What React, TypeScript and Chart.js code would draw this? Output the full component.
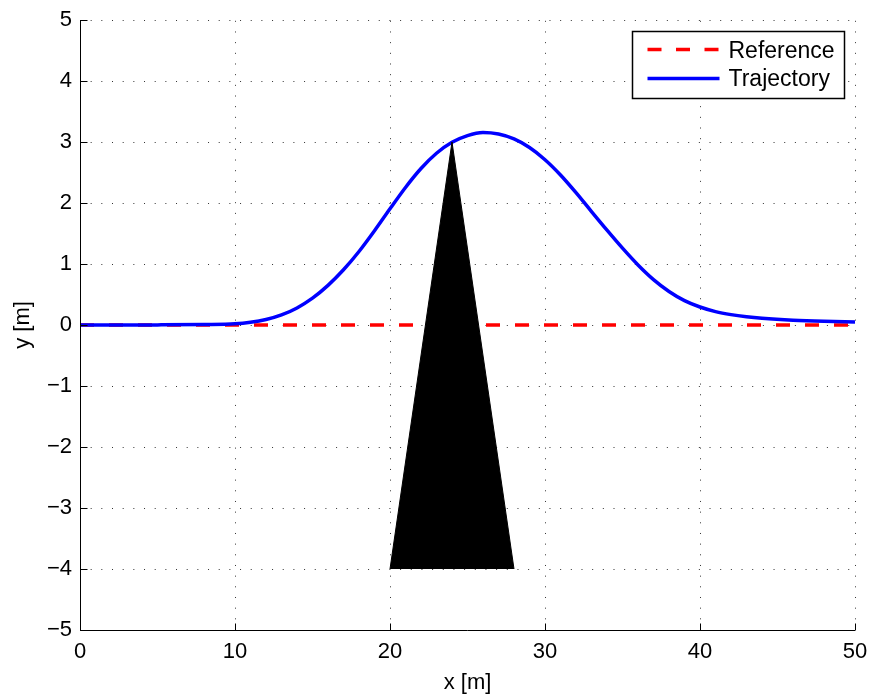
import React, { useEffect, useRef } from "react";
import { Chart, registerables } from "chart.js";

Chart.register(...registerables);

const REF_X = [0, 50];
const REF_Y = [0, 0];

const TRAJ_X = [0, 5, 8, 10, 11, 12, 13, 14, 15, 16, 17, 18, 19, 20, 21, 22, 23, 24, 25, 26, 27, 28, 29, 30, 31, 32, 33, 34, 35, 36, 37, 38, 39, 40, 41, 42, 43, 44, 46, 48, 50];
const TRAJ_Y = [0, 0.002, 0.008, 0.02, 0.045, 0.09, 0.165, 0.28, 0.44, 0.65, 0.905, 1.205, 1.545, 1.905, 2.255, 2.565, 2.815, 2.995, 3.105, 3.155, 3.13, 3.05, 2.91, 2.71, 2.46, 2.17, 1.86, 1.555, 1.26, 0.985, 0.745, 0.55, 0.4, 0.295, 0.22, 0.17, 0.135, 0.11, 0.078, 0.06, 0.05];

const OBST_X = [20, 24, 28];
const OBST_Y = [-4, 3, -4];

const X_TICKS = [0, 10, 20, 30, 40, 50];
const Y_TICKS = [-5, -4, -3, -2, -1, 0, 1, 2, 3, 4, 5];

const LEGEND_LABELS = ["Reference", "Trajectory"];
const X_TITLE = "x [m]";
const Y_TITLE = "y [m]";

const FONT_FAMILY = "'Liberation Sans', Arial, Helvetica, sans-serif";
const FONT_SIZE = 22;

const toPts = (xs: number[], ys: number[]) => xs.map((x, i) => ({ x, y: ys[i] }));
const fmt = (v: number) => (v < 0 ? "\u2212" + Math.abs(v) : String(v));

const gridPlugin = {
  id: "matlabGrid",
  beforeDatasetsDraw(chart: any) {
    const { ctx, chartArea } = chart;
    const xs = chart.scales.x;
    const ys = chart.scales.y;
    ctx.save();
    ctx.setLineDash([1, 9.67]);
    ctx.strokeStyle = "rgba(0,0,0,0.8)";
    ctx.lineWidth = 1;
    ctx.beginPath();
    X_TICKS.forEach((v) => {
      const px = Math.round(xs.getPixelForValue(v)) + 0.5;
      ctx.moveTo(px, chartArea.bottom);
      ctx.lineTo(px, chartArea.top);
    });
    Y_TICKS.forEach((v) => {
      const py = Math.round(ys.getPixelForValue(v)) + 0.5;
      ctx.moveTo(chartArea.left, py);
      ctx.lineTo(chartArea.right, py);
    });
    ctx.stroke();
    ctx.restore();
  },
  afterDatasetsDraw(chart: any) {
    const { ctx, chartArea } = chart;
    const xs = chart.scales.x;
    const ys = chart.scales.y;
    const L = Math.round(chartArea.left) + 0.5;
    const B = Math.round(chartArea.bottom) + 0.5;
    ctx.save();
    ctx.setLineDash([]);
    ctx.strokeStyle = "#000";
    ctx.lineWidth = 1;
    ctx.beginPath();
    ctx.moveTo(L, chartArea.top);
    ctx.lineTo(L, B);
    ctx.lineTo(chartArea.right, B);
    X_TICKS.forEach((v) => {
      const px = Math.round(xs.getPixelForValue(v)) + 0.5;
      ctx.moveTo(px, B);
      ctx.lineTo(px, B - 7);
    });
    Y_TICKS.forEach((v) => {
      const py = Math.round(ys.getPixelForValue(v)) + 0.5;
      ctx.moveTo(L, py);
      ctx.lineTo(L + 7, py);
    });
    ctx.stroke();
    ctx.restore();
  },
  afterDraw(chart: any) {
    const { ctx, chartArea } = chart;
    const w = 212;
    const h = 67;
    const x0 = Math.round(chartArea.right - 11 - w) + 0.5;
    const y0 = Math.round(chartArea.top + 11) + 0.5;
    ctx.save();
    ctx.fillStyle = "#fff";
    ctx.fillRect(x0, y0, w, h);
    ctx.strokeStyle = "#000";
    ctx.lineWidth = 1.5;
    ctx.strokeRect(x0, y0, w, h);
    const styles = [
      { color: "#ff0000", dash: [14, 14.5] },
      { color: "#0000ff", dash: [] as number[] },
    ];
    const rowY = [18, 47];
    const baseY = [26.5, 54.5];
    LEGEND_LABELS.forEach((label, i) => {
      ctx.beginPath();
      ctx.setLineDash(styles[i].dash);
      ctx.strokeStyle = styles[i].color;
      ctx.lineWidth = 3.5;
      ctx.moveTo(x0 + 15, y0 + rowY[i]);
      ctx.lineTo(x0 + 87, y0 + rowY[i]);
      ctx.stroke();
      ctx.setLineDash([]);
      ctx.fillStyle = "#000";
      ctx.font = `${FONT_SIZE + 1}px ${FONT_FAMILY}`;
      ctx.textAlign = "left";
      ctx.textBaseline = "alphabetic";
      ctx.fillText(label, x0 + 96, y0 + baseY[i]);
    });
    ctx.restore();
  },
};

export default function App() {
  const ref = useRef<HTMLCanvasElement | null>(null);

  useEffect(() => {
    document.body.style.margin = "0";
    if (!ref.current) return;
    const chart = new Chart(ref.current, {
      type: "line",
      data: {
        datasets: [
          {
            label: "Obstacle",
            data: toPts(OBST_X, OBST_Y),
            borderColor: "#000",
            backgroundColor: "#000",
            borderWidth: 1,
            fill: "shape",
            pointRadius: 0,
            tension: 0,
          },
          {
            label: LEGEND_LABELS[1],
            data: toPts(TRAJ_X, TRAJ_Y),
            borderColor: "#0000ff",
            borderWidth: 3.5,
            pointRadius: 0,
            fill: false,
            cubicInterpolationMode: "monotone",
          },
          {
            label: LEGEND_LABELS[0],
            data: toPts(REF_X, REF_Y),
            borderColor: "#ff0000",
            borderWidth: 3.5,
            borderDash: [14, 15],
            pointRadius: 0,
            fill: false,
          },
        ],
      },
      options: {
        responsive: false,
        animation: false,
        devicePixelRatio: 1,
        layout: { padding: { left: 0, right: 17, top: 20, bottom: 0 } },
        plugins: {
          legend: { display: false },
          tooltip: { enabled: false },
        },
        scales: {
          x: {
            type: "linear",
            min: 0,
            max: 50,
            afterBuildTicks: (s: any) => {
              s.ticks = X_TICKS.map((v) => ({ value: v }));
            },
            afterFit: (s: any) => {
              s.height = 68;
              s.paddingLeft = 0;
              s.paddingRight = 0;
            },
            grid: { display: false, drawTicks: false },
            border: { display: false },
            ticks: {
              color: "#000",
              padding: 9,
              maxRotation: 0,
              font: { family: FONT_FAMILY, size: FONT_SIZE },
              callback: (v: any) => fmt(Number(v)),
            },
            title: {
              display: true,
              text: X_TITLE,
              color: "#000",
              font: { family: FONT_FAMILY, size: FONT_SIZE },
              padding: { top: 0, bottom: 2 },
            },
          },
          y: {
            type: "linear",
            min: -5,
            max: 5,
            afterBuildTicks: (s: any) => {
              s.ticks = Y_TICKS.map((v) => ({ value: v }));
            },
            afterFit: (s: any) => {
              s.width = 80;
              s.paddingTop = 0;
              s.paddingBottom = 0;
            },
            grid: { display: false, drawTicks: false },
            border: { display: false },
            ticks: {
              color: "#000",
              padding: 8,
              font: { family: FONT_FAMILY, size: FONT_SIZE },
              callback: (v: any) => fmt(Number(v)),
            },
            title: {
              display: true,
              text: Y_TITLE,
              color: "#000",
              font: { family: FONT_FAMILY, size: FONT_SIZE },
              padding: { top: 10, bottom: 0 },
            },
          },
        },
      },
      plugins: [gridPlugin],
    });
    return () => chart.destroy();
  }, []);

  return (
    <div style={{ width: 872, height: 698 }}>
      <canvas ref={ref} width={872} height={698} style={{ display: "block" }} />
    </div>
  );
}
